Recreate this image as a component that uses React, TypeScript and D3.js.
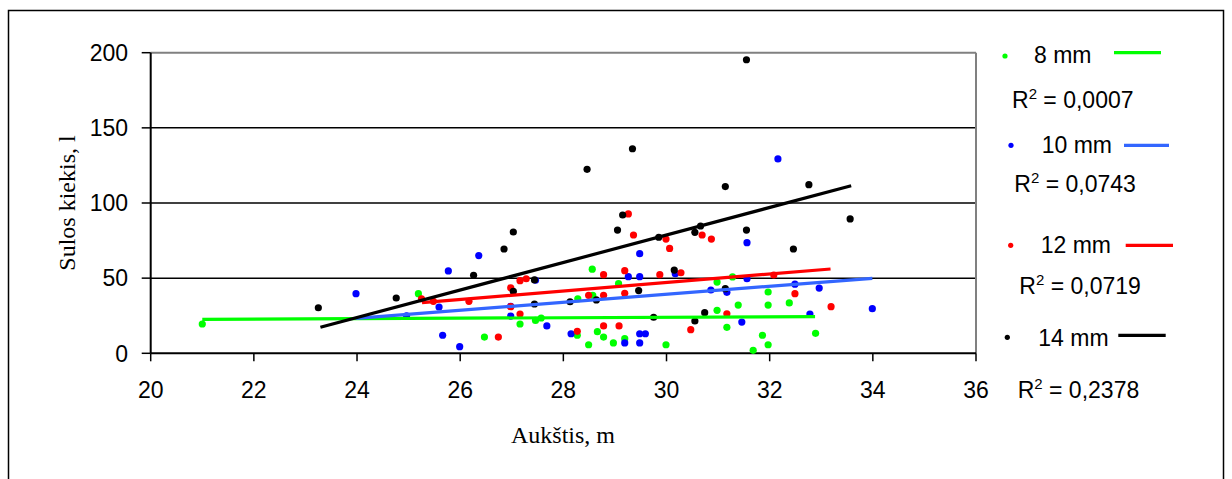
import React from "react";
import * as d3 from "d3";

const xTicks = [20, 22, 24, 26, 28, 30, 32, 34, 36];
const yTicks = [0, 50, 100, 150, 200];

const seriesNames = ["8 mm", "10 mm", "12 mm", "14 mm"];
const r2Labels = ["0,0007", "0,0743", "0,0719", "0,2378"];

const s8X = [21.0, 25.19, 26.47, 27.16, 27.46, 27.57, 28.56, 28.28, 28.57, 28.27, 28.49, 28.66, 28.78, 28.97, 29.07, 29.19, 29.99, 30.98, 31.28, 30.98, 31.39, 31.17, 31.97, 31.97, 32.38, 31.86, 31.97, 31.68, 32.89];
const s8Y = [19.5, 39.7, 10.8, 19.5, 21.9, 23.5, 56, 36.3, 38.6, 12, 5.7, 14.4, 10.8, 6.9, 46.3, 9.7, 5.7, 47.4, 50.8, 28.6, 32.1, 17.3, 40.8, 32.1, 33.5, 12, 5.7, 2, 13.3];

const s10X = [23.98, 24.96, 25.59, 25.66, 25.77, 25.99, 26.36, 26.98, 26.98, 27.46, 27.68, 28.15, 29.19, 29.26, 29.48, 29.48, 29.48, 29.48, 29.59, 30.17, 30.86, 31.17, 31.56, 31.56, 31.46, 32.16, 32.49, 32.96, 32.78, 33.99];
const s10Y = [39.7, 25, 30.8, 12, 54.8, 4.4, 65, 24.8, 31.3, 48.6, 18.2, 13, 6.9, 51, 66.3, 51, 13, 6.9, 13, 53, 42.1, 40.6, 73.6, 49.6, 20.8, 129.3, 46, 43.4, 26.1, 29.7];

const s12X = [25.25, 25.48, 26.17, 26.74, 26.98, 26.98, 27.16, 27.28, 27.16, 28.27, 28.49, 28.78, 28.78, 28.78, 29.08, 29.19, 29.19, 29.26, 29.36, 29.87, 29.99, 30.06, 30.28, 30.47, 30.69, 30.87, 31.17, 32.08, 32.49, 33.19];
const s12Y = [36.3, 34.6, 34.6, 10.8, 43.6, 31, 48.3, 49.6, 26.1, 14.6, 38.6, 52.3, 38.6, 18.2, 18.2, 55, 39.9, 92.7, 78.7, 52.3, 76, 69.8, 53.6, 15.7, 78.7, 76, 26.3, 52.1, 39.7, 31];

const s14X = [23.25, 24.76, 26.26, 26.85, 27.03, 27.03, 27.44, 27.44, 28.13, 28.46, 28.64, 29.05, 29.15, 29.34, 29.46, 29.75, 29.85, 30.15, 30.55, 30.55, 30.66, 30.74, 31.14, 31.14, 31.55, 31.55, 32.46, 32.76, 33.56];
const s14Y = [30.3, 36.8, 51.9, 69.4, 80.7, 41.2, 48.8, 32.8, 34.3, 122.4, 35.5, 82, 92, 136.1, 41.7, 24, 77.2, 55.4, 80.5, 21.5, 84.7, 27, 110.9, 43, 195.3, 82, 69.4, 112.2, 89.4];

// trendline endpoints: [x0, y0, x1, y1]
const trend8 = [21, 22.6, 32.88, 24.4];
const trend10 = [23.98, 23.2, 33.99, 49.9];
const trend12 = [25.26, 33.7, 33.18, 56.1];
const trend14 = [23.29, 17.3, 33.58, 111.5];

const pointColors = ["#00ff00", "#0000ff", "#ff0000", "#000000"];
const lineColors = ["#00ff00", "#3366ff", "#ff0000", "#000000"];

export default function App() {
  const W = 1232;
  const H = 479;
  const x = d3.scaleLinear().domain([20, 36]).range([150.7, 976]);
  const y = d3.scaleLinear().domain([0, 200]).range([353.3, 52.7]);

  const series = [
    { xs: s8X, ys: s8Y, trend: trend8 },
    { xs: s10X, ys: s10Y, trend: trend10 },
    { xs: s12X, ys: s12Y, trend: trend12 },
    { xs: s14X, ys: s14Y, trend: trend14 },
  ];

  const line = d3
    .line<[number, number]>()
    .x((d) => x(d[0]))
    .y((d) => y(d[1]));

  const legend = [
    { dot: [1005, 56], text: [1034, 62.5], line: [1114, 1161, 52.7], r2: [1012, 108.3] },
    { dot: [1011, 145.3], text: [1041.7, 153.3], line: [1124, 1169, 145.3], r2: [1014.3, 192.3] },
    { dot: [1010.7, 245.3], text: [1040.7, 253.3], line: [1125.7, 1173, 245.3], r2: [1019.3, 294.3] },
    { dot: [1007.3, 337.3], text: [1038.3, 345.7], line: [1118.3, 1165.7, 335.3], r2: [1017.7, 398.3] },
  ];

  const sans = "Arial, 'Liberation Sans', sans-serif";
  const serif = "'Times New Roman', 'Liberation Serif', serif";

  return (
    <svg
      width={W}
      height={H}
      style={{ position: "absolute", left: 0, top: 0, background: "#fff" }}
    >
      <rect x={0} y={0} width={W} height={H} fill="#fff" />
      <rect x={8.5} y={10.5} width={1215} height={520} fill="none" stroke="#000" strokeWidth={1.5} />

      {/* gridlines */}
      {yTicks.filter((t) => t > 0 && t < 200).map((t) => (
        <line key={"g" + t} x1={x(20)} x2={x(36)} y1={y(t)} y2={y(t)} stroke="#000" strokeWidth={1.5} />
      ))}
      {/* plot border top/right gray */}
      <line x1={x(20)} x2={x(36)} y1={y(200)} y2={y(200)} stroke="#808080" strokeWidth={2} />
      <line x1={x(36)} x2={x(36)} y1={y(200)} y2={y(0)} stroke="#808080" strokeWidth={2} />

      {/* axes */}
      <line x1={x(20)} x2={x(36)} y1={y(0)} y2={y(0)} stroke="#000" strokeWidth={2} />
      <line x1={x(20)} x2={x(20)} y1={y(200)} y2={y(0)} stroke="#000" strokeWidth={2} />
      {xTicks.map((t) => (
        <g key={"xt" + t}>
          <line x1={x(t)} x2={x(t)} y1={y(0)} y2={y(0) + 8} stroke="#000" strokeWidth={1.5} />
          <text x={x(t)} y={398} textAnchor="middle" fontFamily={sans} fontSize={23} fill="#000">
            {t}
          </text>
        </g>
      ))}
      {yTicks.map((t) => (
        <g key={"yt" + t}>
          <line x1={x(20) - 9} x2={x(20)} y1={y(t)} y2={y(t)} stroke="#000" strokeWidth={1.5} />
          <text x={128} y={y(t)} dy="0.36em" textAnchor="end" fontFamily={sans} fontSize={23} fill="#000">
            {t}
          </text>
        </g>
      ))}

      {/* points */}
      {series.map((s, i) => (
        <g key={"s" + i}>
          {s.xs.map((xv, j) => (
            <circle key={j} cx={x(xv)} cy={y(s.ys[j])} r={3.6} fill={pointColors[i]} />
          ))}
        </g>
      ))}

      {/* trendlines */}
      {series.map((s, i) => (
        <path
          key={"t" + i}
          d={line([
            [s.trend[0], s.trend[1]],
            [s.trend[2], s.trend[3]],
          ]) || ""}
          stroke={lineColors[i]}
          strokeWidth={3.2}
          fill="none"
        />
      ))}

      {/* axis titles */}
      <text
        transform={`translate(75,${(y(0) + y(200)) / 2}) rotate(-90)`}
        textAnchor="middle"
        fontFamily={serif}
        fontSize={24}
        fill="#000"
      >
        Sulos kiekis, l
      </text>
      <text x={563} y={443} textAnchor="middle" fontFamily={serif} fontSize={24} fill="#000">
        Aukštis, m
      </text>

      {/* legend */}
      {legend.map((L, i) => (
        <g key={"l" + i}>
          <circle cx={L.dot[0]} cy={L.dot[1]} r={2.6} fill={pointColors[i]} />
          <text x={L.text[0]} y={L.text[1]} fontFamily={sans} fontSize={23} fill="#000">
            {seriesNames[i]}
          </text>
          <line x1={L.line[0]} x2={L.line[1]} y1={L.line[2]} y2={L.line[2]} stroke={lineColors[i]} strokeWidth={3.2} />
          <text x={L.r2[0]} y={L.r2[1]} fontFamily={sans} fontSize={23} fill="#000">
            R
            <tspan dy={-9} fontSize={15}>2</tspan>
            <tspan dy={9}>{" = " + r2Labels[i]}</tspan>
          </text>
        </g>
      ))}
    </svg>
  );
}
